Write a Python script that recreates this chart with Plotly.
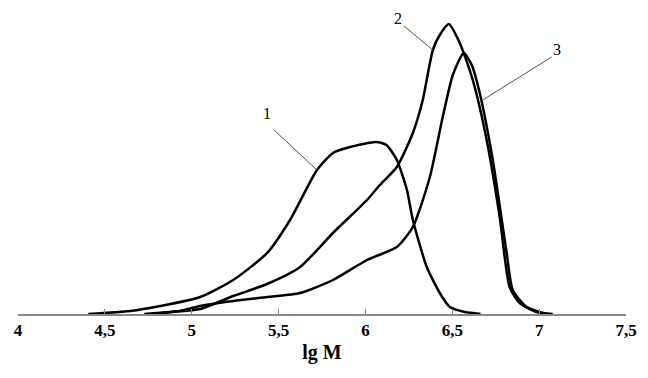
import plotly.graph_objects as go

# lg M values and relative intensity (arbitrary units)
lg1 = [4.405, 4.647, 4.819, 5.049, 5.239, 5.434, 5.566, 5.721, 5.813, 5.911, 6.063, 6.121, 6.181, 6.239, 6.273, 6.353, 6.428, 6.486, 6.572, 6.663]
y1 = [0, 3, 8, 17, 34, 61, 94, 144, 161, 167, 172, 169, 154, 124, 94, 47, 21, 7, 2, 0]

lg2 = [4.727, 4.876, 5.049, 5.239, 5.434, 5.624, 5.813, 6.009, 6.083, 6.181, 6.273, 6.330, 6.388, 6.428, 6.480, 6.543, 6.618, 6.698, 6.773, 6.830, 6.888, 6.986, 7.078]
y2 = [0, 2, 5, 18, 30, 47, 81, 114, 129, 147, 181, 214, 264, 279, 290, 271, 234, 174, 97, 27, 11, 2, 0]

lg3 = [4.761, 4.934, 5.049, 5.239, 5.434, 5.624, 5.813, 6.009, 6.181, 6.273, 6.371, 6.445, 6.503, 6.566, 6.612, 6.658, 6.733, 6.813, 6.848, 6.928, 7.043]
y3 = [0, 3, 8, 13, 17, 21, 34, 54, 67, 87, 137, 197, 239, 261, 249, 221, 154, 61, 24, 7, 0]

tick_vals = [4, 4.5, 5, 5.5, 6, 6.5, 7, 7.5]
tick_text = ["4", "4,5", "5", "5,5", "6", "6,5", "7", "7,5"]

labels = ["1", "2", "3"]
label_pos = [(5.434, 201), (6.187, 296), (7.10, 265)]
leader_from = [(5.474, 184), (6.222, 288), (7.072, 257)]
leader_to = [(5.721, 144), (6.388, 264), (6.675, 214)]

fig = go.Figure()
for xs, ys in [(lg1, y1), (lg2, y2), (lg3, y3)]:
    fig.add_trace(go.Scatter(x=xs, y=ys, mode="lines",
                             line=dict(color="black", width=2.5, shape="spline", smoothing=0.6),
                             showlegend=False, hoverinfo="skip"))

for (fx, fy), (tx, ty) in zip(leader_from, leader_to):
    fig.add_trace(go.Scatter(x=[fx, tx], y=[fy, ty], mode="lines",
                             line=dict(color="#555555", width=1), showlegend=False, hoverinfo="skip"))

for t, (x, y) in zip(labels, label_pos):
    fig.add_annotation(x=x, y=y, text=t, showarrow=False,
                       font=dict(family="Liberation Serif", size=16, color="black"))

fig.update_layout(
    width=648, height=378,
    margin=dict(l=10, r=30, t=2, b=72, autoexpand=False),
    plot_bgcolor="white", paper_bgcolor="white",
    xaxis=dict(range=[4, 7.5], tickvals=tick_vals, ticktext=tick_text, automargin=False,
               showgrid=False, zeroline=False, showline=True, linecolor="#888888", linewidth=1.5,
               ticks="inside", ticklen=5, tickcolor="#888888",
               tickfont=dict(family="Liberation Serif", size=17, color="black", weight="bold"),
               title=dict(text="lg M", font=dict(family="Liberation Serif", size=20, color="black", weight="bold"),
                          standoff=6)),
    yaxis=dict(range=[0, 304], visible=False),
)

fig.write_html("out.html")
